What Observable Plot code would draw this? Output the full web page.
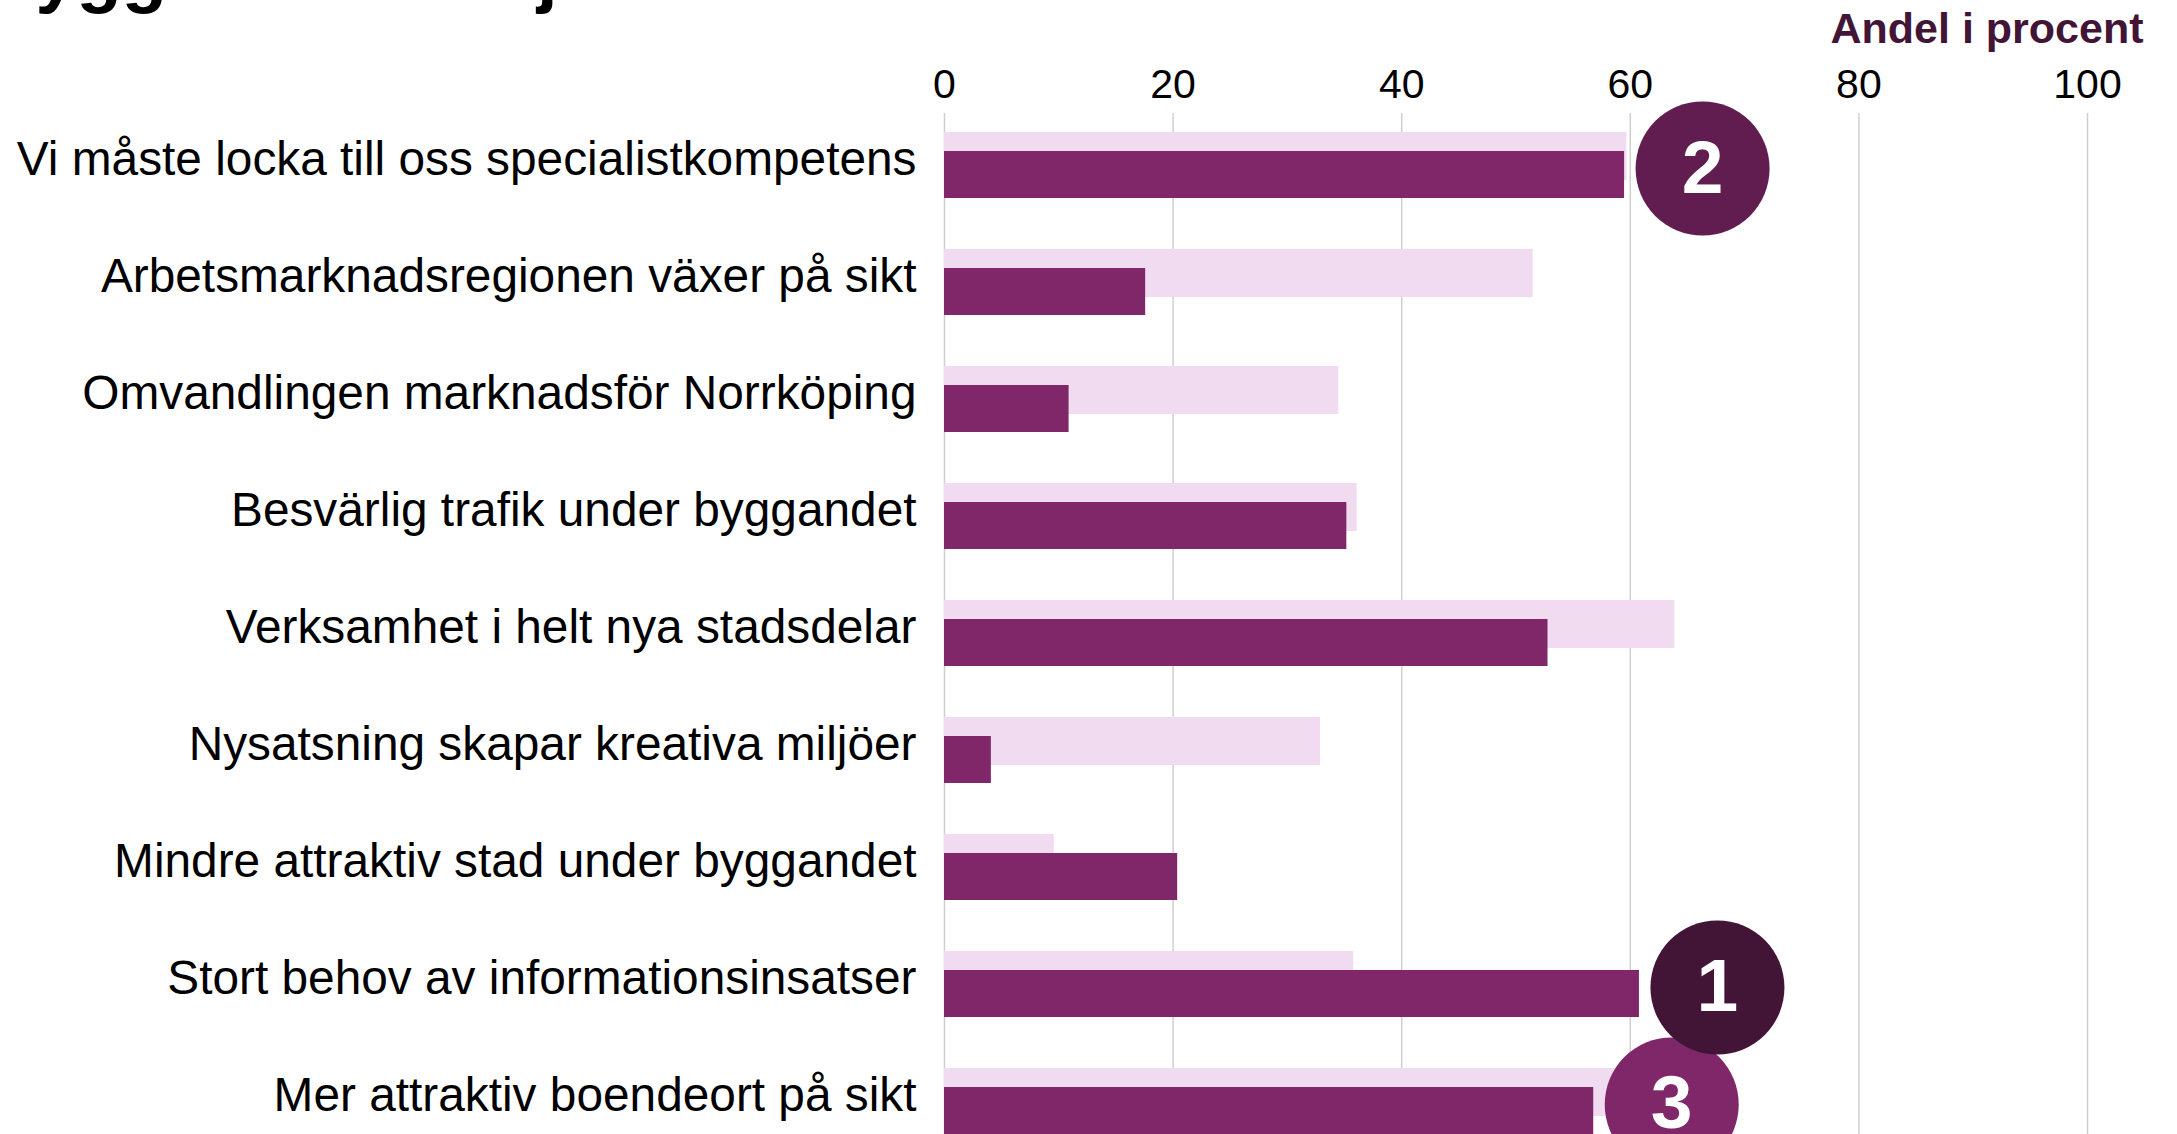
<!DOCTYPE html>
<html><head><meta charset="utf-8">
<script src="https://cdn.jsdelivr.net/npm/d3@7"></script>
<script src="https://cdn.jsdelivr.net/npm/@observablehq/plot@0.6"></script>
<style>
html,body{margin:0;padding:0;background:#fff;overflow:hidden}
body{position:relative;width:2177px;height:1134px;font-family:"Liberation Sans",Arial,sans-serif}
#title{position:absolute;left:-18px;top:-63px;font-size:74px;font-weight:bold;line-height:74px;white-space:nowrap;color:#000;margin:0}
#chart{position:absolute;left:0;top:0}
</style></head><body>
<div id="chart"></div>
<h1 id="title">Byggandet och jobben</h1>
<script>
const categories = [
  "Vi måste locka till oss specialistkompetens",
  "Arbetsmarknadsregionen växer på sikt",
  "Omvandlingen marknadsför Norrköping",
  "Besvärlig trafik under byggandet",
  "Verksamhet i helt nya stadsdelar",
  "Nysatsning skapar kreativa miljöer",
  "Mindre attraktiv stad under byggandet",
  "Stort behov av informationsinsatser",
  "Mer attraktiv boendeort på sikt"
];
const seriesLight = [59.7, 51.5, 34.5, 36.1, 63.9, 32.9, 9.6, 35.8, 59.0];
const seriesDark  = [59.5, 17.6, 10.9, 35.2, 52.8, 4.1, 20.4, 60.8, 56.8];
const rankCategories = ["Mer attraktiv boendeort på sikt", "Vi måste locka till oss specialistkompetens", "Stort behov av informationsinsatser"];
const rankLabels = ["3", "2", "1"];
const xTicks = [0, 20, 40, 60, 80, 100];
const axisLabel = "Andel i procent";

const rows = categories.map((c, i) => ({category: c, light: seriesLight[i], dark: seriesDark[i]}));
const ranks = rankCategories.map((c, i) => ({category: c, rank: rankLabels[i], value: seriesDark[categories.indexOf(c)]}));

const chart = Plot.plot({
  width: 2177, height: 1153,
  marginLeft: 944, marginRight: 90, marginTop: 113, marginBottom: 0,
  style: {fontFamily: "'Liberation Sans', Arial, sans-serif", background: "white", color: "black"},
  x: {domain: [0, 100], ticks: xTicks},
  y: {domain: categories, paddingInner: 0.4359, paddingOuter: 0.1624, round: false},
  color: {domain: ["1", "2", "3"], range: ["#421537", "#611D4F", "#7F2769"]},
  marks: [
    Plot.gridX(xTicks, {stroke: "#cfcfcf", strokeOpacity: 1, strokeWidth: 1.5}),
    Plot.barX(rows, {y: "category", x: "light", fill: "#F0DBF1", insetBottom: 18}),
    Plot.barX(rows, {y: "category", x: "dark", fill: "#7F2769", insetTop: 19}),
    Plot.axisX(xTicks, {anchor: "top", tickSize: 0, tickPadding: 16, fontSize: 41, label: null}),
    Plot.axisY({tickSize: 0, tickPadding: 28, fontSize: 47.8, label: null, dy: -6}),
    Plot.text([axisLabel], {frameAnchor: "top-right", text: d => d, dx: 56, dy: -71, fontSize: 43, fontWeight: "bold", fill: "#421537", textAnchor: "end", lineAnchor: "bottom"}),
    Plot.dot(ranks, {y: "category", x: "value", r: 67, dx: 78, dy: 3, fill: "rank"}),
    Plot.text(ranks, {y: "category", x: "value", text: "rank", dx: 78, dy: 3, fill: "white", fontSize: 75, fontWeight: "bold"})
  ]
});
document.getElementById("chart").appendChild(chart);
</script>
</body></html>
